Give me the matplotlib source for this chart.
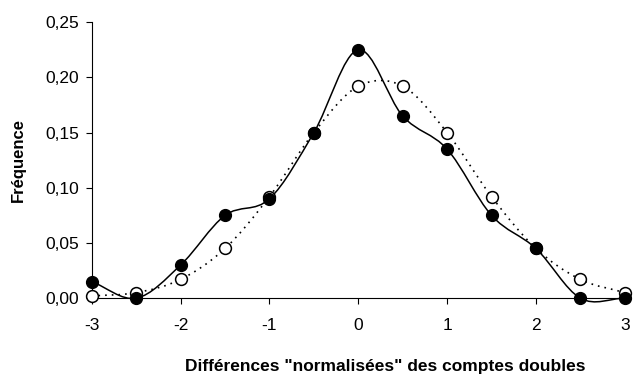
import matplotlib
matplotlib.use('Agg')
import matplotlib.pyplot as plt
from matplotlib.path import Path
from matplotlib.patches import PathPatch
from matplotlib.ticker import FuncFormatter
import numpy as np

plt.rcParams['font.family'] = ['Liberation Sans', 'DejaVu Sans']
plt.rcParams['axes.unicode_minus'] = False

x = [-3, -2.5, -2, -1.5, -1, -0.5, 0, 0.5, 1, 1.5, 2, 2.5, 3]
obs = [0.015, 0.0, 0.030, 0.075, 0.090, 0.150, 0.225, 0.165, 0.135, 0.075, 0.045, 0.0, 0.0]
theo = [0.002, 0.005, 0.017, 0.045, 0.092, 0.150, 0.192, 0.192, 0.150, 0.092, 0.045, 0.017, 0.005]


def smooth_path(xs, ys):
    # Catmull-Rom passant par les points, en courbes de Bézier
    xs = np.asarray(xs, float)
    ys = np.asarray(ys, float)
    px = np.concatenate([[2 * xs[0] - xs[1]], xs, [2 * xs[-1] - xs[-2]]])
    py = np.concatenate([[2 * ys[0] - ys[1]], ys, [2 * ys[-1] - ys[-2]]])
    verts = [(xs[0], ys[0])]
    codes = [Path.MOVETO]
    for i in range(1, len(px) - 2):
        c1 = (px[i] + (px[i + 1] - px[i - 1]) / 6, py[i] + (py[i + 1] - py[i - 1]) / 6)
        c2 = (px[i + 1] - (px[i + 2] - px[i]) / 6, py[i + 1] - (py[i + 2] - py[i]) / 6)
        verts += [c1, c2, (px[i + 1], py[i + 1])]
        codes += [Path.CURVE4] * 3
    return Path(verts, codes)


fig = plt.figure(figsize=(6.33, 3.76), dpi=100)
ax = fig.add_axes([0.145, 0.207, 0.842, 0.734])

ax.add_patch(PathPatch(smooth_path(x, theo), fill=False, color='black', lw=1.2,
                       linestyle=(0, (1, 3)), clip_on=False))
ax.add_patch(PathPatch(smooth_path(x, obs), fill=False, color='black', lw=1.1,
                       clip_on=False))
ax.plot(x, theo, 'o', color='black', mfc='white', ms=8.5, mew=1.1, clip_on=False, zorder=4)
ax.plot(x, obs, 'o', color='black', mfc='black', ms=8.5, clip_on=False, zorder=5)

ax.set_xlim(-3, 3)
ax.set_ylim(0, 0.25)
ax.set_xticks([-3, -2, -1, 0, 1, 2, 3])
ax.set_yticks([0, 0.05, 0.10, 0.15, 0.20, 0.25])
ax.yaxis.set_major_formatter(FuncFormatter(lambda v, p: f'{v:.2f}'.replace('.', ',')))
ax.tick_params(labelsize=12.5, length=4, width=0.8)
ax.tick_params(axis='x', pad=10)
ax.tick_params(axis='y', pad=5)

for s in ['top', 'right']:
    ax.spines[s].set_visible(False)

ax.set_xlabel('Différences "normalisées" des comptes doubles', fontsize=12.5,
              fontweight='bold')
ax.xaxis.set_label_coords(0.55, -0.222)
ax.set_ylabel('Fréquence', fontsize=12, fontweight='bold', labelpad=14)

fig.savefig('out.png', dpi=100)
